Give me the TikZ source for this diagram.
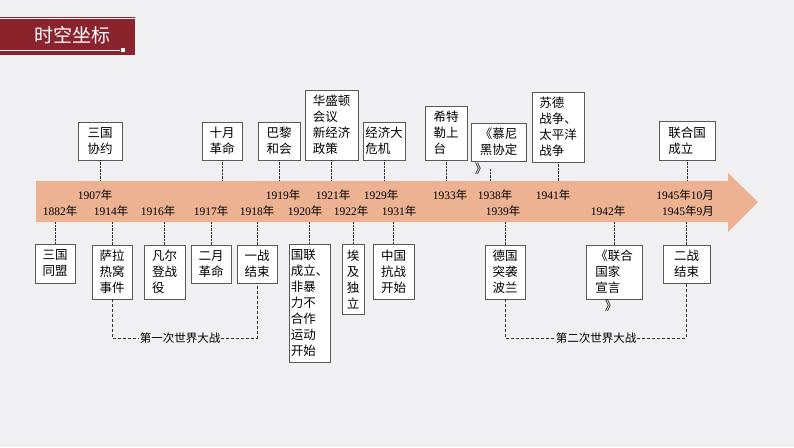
\documentclass[tikz,border=0pt]{standalone}
\usepackage{fontspec}
\setmainfont{Liberation Serif}
\newfontfamily\cjk{Noto Sans CJK SC}
\usetikzlibrary{positioning,calc}
\definecolor{bgray}{RGB}{240,240,242}
\definecolor{band}{RGB}{236,178,146}
\definecolor{hred}{RGB}{139,35,45}

\begin{document}
\begin{tikzpicture}[x=1pt, y=-1pt,
    event/.style={rectangle, draw=black!65, fill=white, inner sep=1pt, align=left, font=\cjk\fontsize{12.5}{16}\selectfont},
    yr/.style={font=\fontsize{11.5}{13}\selectfont, inner sep=0pt},
    tick/.style={densely dotted, black!80},
    war/.style={densely dashed, black!80},
    warlabel/.style={fill=bgray, inner sep=1pt, font=\cjk\fontsize{11.5}{13}\selectfont}
]
    \useasboundingbox[fill=bgray] (0,0) rectangle (794,447);

    % Header
    \fill[hred] (0,17) rectangle (135,55);
    \draw[white, line width=0.6pt] (0,18.5) -- (135,18.5);
    \draw[white, line width=0.6pt] (0,50) -- (120,50);
    \fill[white] (121,48) rectangle (125,52);
    \node[text=white, font=\cjk\fontsize{19}{22}\selectfont] (title) at (72,35) {时空坐标};

    % Time band
    \fill[band] (36,181) -- (728,181) -- (728,173) -- (758,202) -- (728,232) -- (728,222) -- (36,222) -- cycle;
    \coordinate (btop) at (0,181);
    \coordinate (bbot) at (0,222);

    % Years, upper row
    \node[yr] (y1907) at (95,195) {1907{\cjk 年}};
    \node[yr] (y1919) at (283,195) {1919{\cjk 年}};
    \node[yr] (y1921) at (333,195) {1921{\cjk 年}};
    \node[yr] (y1929) at (381,195) {1929{\cjk 年}};
    \node[yr] (y1933) at (450,195) {1933{\cjk 年}};
    \node[yr] (y1938) at (495,195) {1938{\cjk 年}};
    \node[yr] (y1941) at (553,195) {1941{\cjk 年}};
    \node[yr] (y1945a) at (685,195) {1945{\cjk 年}10{\cjk 月}};

    % Years, lower row
    \node[yr] (y1882) at (60,211) {1882{\cjk 年}};
    \node[yr] (y1914) at (111,211) {1914{\cjk 年}};
    \node[yr] (y1916) at (158,211) {1916{\cjk 年}};
    \node[yr] (y1917) at (211,211) {1917{\cjk 年}};
    \node[yr] (y1918) at (257,211) {1918{\cjk 年}};
    \node[yr] (y1920) at (305,211) {1920{\cjk 年}};
    \node[yr] (y1922) at (351,211) {1922{\cjk 年}};
    \node[yr] (y1931) at (399,211) {1931{\cjk 年}};
    \node[yr] (y1939) at (503,211) {1939{\cjk 年}};
    \node[yr] (y1942) at (608,211) {1942{\cjk 年}};
    \node[yr] (y1945b) at (688,211) {1945{\cjk 年}9{\cjk 月}};

    % Events above the band
    \node[event, minimum width=44pt, minimum height=38pt] (entente) at (100,141) {三国\\协约};
    \node[event, minimum width=40pt, minimum height=38pt] (october) at (222,141) {十月\\革命};
    \node[event, minimum width=42pt, minimum height=38pt] (paris) at (279,141) {巴黎\\和会};
    \node[event, minimum width=53pt, minimum height=70pt] (washington) at (331.5,125) {华盛顿\\会议\\新经济\\政策};
    \node[event, minimum width=42pt, minimum height=38pt] (crisis) at (384,141) {经济大\\危机};
    \node[event, minimum width=42pt, minimum height=54pt] (hitler) at (446,133) {希特\\勒上\\台};
    \node[event, minimum width=55pt, minimum height=38pt] (munich) at (498.5,142) {《慕尼\\黑协定};
    \node[font=\cjk\fontsize{12.5}{16}\selectfont, inner sep=0pt] (munichend) at (481,169) {》};
    \node[event, minimum width=52pt, minimum height=70pt] (sovietwar) at (558,127) {苏德\\战争、\\太平洋\\战争};
    \node[event, minimum width=56pt, minimum height=39pt] (un) at (687,140.5) {联合国\\成立};

    % Events below the band
    \node[event, minimum width=40pt, minimum height=39pt] (alliance) at (55,263.5) {三国\\同盟};
    \node[event, minimum width=40pt, minimum height=54pt] (sarajevo) at (112,272) {萨拉\\热窝\\事件};
    \node[event, minimum width=41pt, minimum height=54pt] (verdun) at (164.5,272) {凡尔\\登战\\役};
    \node[event, minimum width=40pt, minimum height=38pt] (february) at (211,264) {二月\\革命};
    \node[event, minimum width=40pt, minimum height=38pt] (wwiend) at (257,264) {一战\\结束};
    \node[event, minimum width=41pt, minimum height=118pt] (league) at (309.5,303) {国联\\成立、\\非暴\\力不\\合作\\运动\\开始};
    \node[event, minimum width=22pt, minimum height=70pt] (egypt) at (353,279) {埃\\及\\独\\立};
    \node[event, minimum width=41pt, minimum height=55pt] (china) at (393.5,271.5) {中国\\抗战\\开始};
    \node[event, minimum width=40pt, minimum height=54pt] (poland) at (505,272) {德国\\突袭\\波兰};
    \node[event, minimum width=56pt, minimum height=54pt] (declaration) at (614,272) {《联合\\国家\\宣言};
    \node[font=\cjk\fontsize{12.5}{16}\selectfont, inner sep=0pt] (declend) at (611,306) {》};
    \node[event, minimum width=47pt, minimum height=38pt] (wwiiend) at (686.5,264) {二战\\结束};

    % Ticks to the band
    \foreach \e in {entente,october,paris,washington,crisis,hitler,sovietwar,un}
        \draw[tick] (\e.south) -- (\e.south |- btop);
    \draw[tick] (munichend.east) ++(3,0) coordinate (mtick) -- (mtick |- btop);
    \foreach \e in {alliance,sarajevo,verdun,february,wwiend,league,egypt,china,poland,declaration,wwiiend}
        \draw[tick] (\e.north |- bbot) -- (\e.north);

    % World wars
    \node[warlabel] (ww1) at (180,338) {第一次世界大战};
    \draw[war] (sarajevo.south) |- (ww1.west);
    \draw[war] (ww1.east) -| (wwiend.south);
    \node[warlabel] (ww2) at (596,338) {第二次世界大战};
    \draw[war] (poland.south) |- (ww2.west);
    \draw[war] (ww2.east) -| (wwiiend.south);
\end{tikzpicture}
\end{document}
